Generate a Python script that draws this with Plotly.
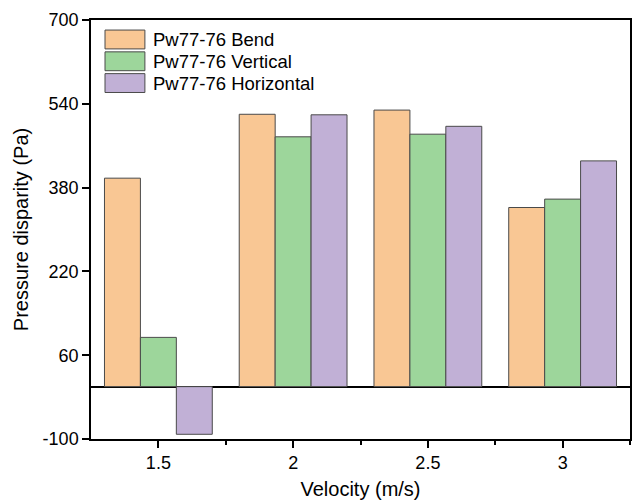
import plotly.graph_objects as go

velocity = [1.5, 2.0, 2.5, 3.0]
series_names = ["Pw77-76 Bend", "Pw77-76 Vertical", "Pw77-76 Horizontal"]
bend = [398, 520, 528, 342]
vertical = [94, 477, 482, 358]
horizontal = [-91, 519, 497, 431]
colors = ["#F9C794", "#9DD69B", "#C1B0D6"]
y_ticks = [-100, 60, 220, 380, 540, 700]
y_ticktext = ["-100", "60", "220", "380", "540", "700"]
x_ticks = [1.5, 2, 2.5, 3]
x_ticktext = ["1.5", "2", "2.5", "3"]
x_minor = [1.75, 2.25, 2.75, 3.25]

FONT = "Arial, Liberation Sans, sans-serif"

fig = go.Figure()
for name, vals, col in zip(series_names, [bend, vertical, horizontal], colors):
    fig.add_trace(go.Bar(
        x=velocity, y=vals, name=name,
        marker=dict(color=col, line=dict(color="#4a4a4a", width=1)),
        showlegend=False,
    ))

# custom legend (large rectangular swatches like the original)
for i, (name, col) in enumerate(zip(series_names, colors)):
    top = 0.976 - i * 0.052
    fig.add_shape(type="rect", xref="paper", yref="paper",
                  x0=0.026, x1=0.1, y0=top - 0.045, y1=top,
                  fillcolor=col, line=dict(color="#4a4a4a", width=1))
    fig.add_annotation(xref="paper", yref="paper", x=0.112, y=top - 0.0225,
                       text=name, showarrow=False, xanchor="left", yanchor="middle",
                       font=dict(family=FONT, size=18.5, color="black"))

fig.update_layout(
    width=636, height=501,
    margin=dict(l=91, r=4, t=20, b=62),
    paper_bgcolor="white", plot_bgcolor="white",
    barmode="group", bargap=0.2, bargroupgap=0,
    font=dict(family=FONT, size=18, color="black"),
)
fig.update_xaxes(
    range=[1.25, 3.25], tickvals=x_ticks, ticktext=x_ticktext,
    ticks="outside", ticklen=7, tickwidth=1.5, tickcolor="black",
    minor=dict(tickvals=x_minor, ticks="outside", ticklen=4, tickwidth=1.5, tickcolor="black"),
    showline=True, linecolor="black", linewidth=1.5, mirror=True,
    showgrid=False, zeroline=False,
    title=dict(text="Velocity (m/s)", font=dict(size=20), standoff=10),
    tickfont=dict(size=18),
)
fig.update_yaxes(
    range=[-100, 700], tickvals=y_ticks, ticktext=y_ticktext,
    ticks="outside", ticklen=7, tickwidth=1.5, tickcolor="black",
    showline=True, linecolor="black", linewidth=1.5, mirror=True,
    showgrid=False, zeroline=True, zerolinecolor="black", zerolinewidth=1.5,
    title=dict(text="Pressure disparity (Pa)", font=dict(size=20), standoff=9),
    tickfont=dict(size=18),
)

fig.write_html("out.html")
